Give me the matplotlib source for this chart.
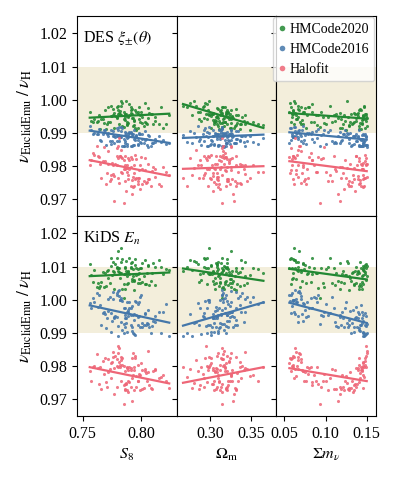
import numpy as np
import matplotlib
matplotlib.use("Agg")
import matplotlib.pyplot as plt

plt.rcParams['font.family'] = ['Liberation Serif', 'DejaVu Serif']
plt.rcParams['mathtext.fontset'] = 'stix'
plt.rcParams['font.size'] = 11.5

# === DATA: sampled cosmologies ===
S8 = [0.782, 0.791, 0.768, 0.801, 0.776, 0.794, 0.759, 0.787, 0.812, 0.779,
      0.785, 0.797, 0.771, 0.803, 0.789, 0.764, 0.795, 0.781, 0.808, 0.774,
      0.792, 0.786, 0.799, 0.757, 0.783, 0.806, 0.777, 0.790, 0.769, 0.815,
      0.788, 0.796, 0.780, 0.762, 0.802, 0.784, 0.793, 0.773, 0.810, 0.786,
      0.798, 0.778, 0.766, 0.791, 0.804, 0.782, 0.789, 0.821, 0.775, 0.794,
      0.787, 0.800, 0.770, 0.783, 0.797, 0.760, 0.792, 0.779, 0.806, 0.788,
      0.795, 0.772, 0.785, 0.817, 0.780, 0.799, 0.765, 0.790, 0.803, 0.777,
      0.786, 0.793, 0.756, 0.807, 0.781, 0.796, 0.774, 0.789, 0.812, 0.784,
      0.798, 0.767, 0.791, 0.779, 0.805, 0.786, 0.824, 0.772, 0.794, 0.783,
      0.801, 0.788, 0.763, 0.797, 0.780, 0.809, 0.776, 0.792, 0.785, 0.819]

Om = [0.312, 0.298, 0.325, 0.307, 0.331, 0.289, 0.318, 0.303, 0.341, 0.315,
      0.296, 0.322, 0.309, 0.276, 0.327, 0.314, 0.301, 0.336, 0.319, 0.292,
      0.324, 0.306, 0.352, 0.311, 0.283, 0.317, 0.329, 0.299, 0.313, 0.338,
      0.305, 0.321, 0.267, 0.316, 0.330, 0.294, 0.310, 0.345, 0.320, 0.302,
      0.326, 0.308, 0.287, 0.318, 0.333, 0.297, 0.314, 0.359, 0.323, 0.304,
      0.280, 0.319, 0.311, 0.334, 0.300, 0.316, 0.328, 0.293, 0.309, 0.343,
      0.321, 0.306, 0.315, 0.272, 0.325, 0.312, 0.337, 0.296, 0.318, 0.304,
      0.331, 0.310, 0.285, 0.322, 0.314, 0.349, 0.301, 0.327, 0.308, 0.317,
      0.291, 0.323, 0.313, 0.339, 0.305, 0.320, 0.278, 0.316, 0.332, 0.299,
      0.312, 0.365, 0.307, 0.324, 0.295, 0.319, 0.342, 0.310, 0.288, 0.326]

mnu = [0.061, 0.143, 0.098, 0.127, 0.067, 0.149, 0.082, 0.136, 0.112, 0.058,
       0.146, 0.074, 0.121, 0.063, 0.139, 0.091, 0.148, 0.070, 0.131, 0.105,
       0.059, 0.144, 0.086, 0.124, 0.066, 0.150, 0.117, 0.077, 0.141, 0.062,
       0.134, 0.095, 0.147, 0.069, 0.128, 0.057, 0.145, 0.108, 0.073, 0.138,
       0.064, 0.149, 0.119, 0.080, 0.142, 0.060, 0.133, 0.101, 0.146, 0.071,
       0.126, 0.056, 0.140, 0.088, 0.148, 0.065, 0.115, 0.137, 0.075, 0.144,
       0.060, 0.130, 0.093, 0.147, 0.068, 0.122, 0.143, 0.084, 0.058, 0.139,
       0.110, 0.150, 0.072, 0.135, 0.063, 0.125, 0.145, 0.097, 0.066, 0.141,
       0.079, 0.148, 0.118, 0.059, 0.132, 0.103, 0.146, 0.070, 0.129, 0.062,
       0.144, 0.089, 0.137, 0.076, 0.149, 0.113, 0.064, 0.142, 0.083, 0.120]

# === DES xi_pm ratios ===
des_hm20 = [0.9966, 0.9969, 0.9929, 0.9947, 0.9972, 0.9935, 0.9933, 0.9958, 0.9936, 0.9979,
            0.9941, 0.9962, 0.9926, 0.9991, 0.9950, 0.9954, 0.9916, 0.9928, 0.9958, 0.9982,
            0.9958, 0.9939, 0.9934, 0.9935, 0.9981, 0.9945, 0.9914, 0.9953, 0.9970, 0.9928,
            0.9932, 0.9963, 0.9981, 0.9932, 0.9920, 0.9990, 0.9946, 0.9933, 0.9928, 0.9958,
            0.9941, 0.9951, 0.9942, 0.9978, 0.9931, 0.9957, 0.9930, 0.9926, 0.9952, 0.9940,
            0.9996, 0.9963, 0.9912, 0.9955, 0.9957, 0.9943, 0.9944, 0.9945, 0.9976, 0.9928,
            0.9970, 0.9932, 0.9917, 0.9978, 0.9970, 0.9955, 0.9912, 0.9988, 0.9932, 0.9961,
            0.9953, 0.9920, 0.9964, 0.9960, 0.9959, 0.9908, 0.9952, 0.9949, 0.9948, 0.9922,
            0.9977, 0.9941, 0.9959, 0.9948, 0.9928, 0.9947, 0.9953, 0.9977, 0.9924, 0.9996,
            0.9930, 0.9923, 0.9935, 0.9915, 0.9956, 0.9956, 0.9955, 0.9972, 0.9963, 0.9915]

des_hm16 = [0.9889, 0.9862, 0.9908, 0.9896, 0.9906, 0.9864, 0.9896, 0.9891, 0.9873, 0.9915,
            0.9860, 0.9878, 0.9897, 0.9907, 0.9889, 0.9912, 0.9879, 0.9877, 0.9861, 0.9909,
            0.9898, 0.9894, 0.9874, 0.9908, 0.9887, 0.9858, 0.9870, 0.9901, 0.9909, 0.9892,
            0.9866, 0.9894, 0.9893, 0.9897, 0.9869, 0.9914, 0.9896, 0.9876, 0.9871, 0.9875,
            0.9899, 0.9888, 0.9875, 0.9900, 0.9881, 0.9889, 0.9890, 0.9866, 0.9875, 0.9910,
            0.9900, 0.9870, 0.9864, 0.9907, 0.9863, 0.9899, 0.9892, 0.9875, 0.9893, 0.9862,
            0.9887, 0.9900, 0.9860, 0.9874, 0.9908, 0.9898, 0.9880, 0.9904, 0.9878, 0.9890,
            0.9871, 0.9865, 0.9920, 0.9891, 0.9918, 0.9892, 0.9866, 0.9898, 0.9882, 0.9862,
            0.9896, 0.9898, 0.9902, 0.9890, 0.9863, 0.9902, 0.9870, 0.9892, 0.9883, 0.9918,
            0.9882, 0.9886, 0.9898, 0.9868, 0.9892, 0.9869, 0.9891, 0.9862, 0.9882, 0.9878]

des_halofit = [0.9830, 0.9739, 0.9858, 0.9747, 0.9803, 0.9805, 0.9840, 0.9724, 0.9793, 0.9854,
               0.9792, 0.9756, 0.9780, 0.9825, 0.9762, 0.9829, 0.9835, 0.9748, 0.9741, 0.9772,
               0.9823, 0.9792, 0.9803, 0.9819, 0.9848, 0.9807, 0.9695, 0.9790, 0.9816, 0.9746,
               0.9795, 0.9821, 0.9764, 0.9862, 0.9756, 0.9780, 0.9737, 0.9755, 0.9797, 0.9804,
               0.9788, 0.9806, 0.9764, 0.9828, 0.9750, 0.9831, 0.9774, 0.9783, 0.9809, 0.9779,
               0.9795, 0.9829, 0.9745, 0.9783, 0.9764, 0.9834, 0.9716, 0.9830, 0.9760, 0.9804,
               0.9761, 0.9807, 0.9688, 0.9740, 0.9860, 0.9730, 0.9807, 0.9818, 0.9787, 0.9770,
               0.9832, 0.9766, 0.9805, 0.9760, 0.9885, 0.9763, 0.9760, 0.9826, 0.9767, 0.9825,
               0.9763, 0.9815, 0.9797, 0.9804, 0.9752, 0.9754, 0.9773, 0.9845, 0.9741, 0.9829,
               0.9792, 0.9781, 0.9831, 0.9745, 0.9825, 0.9786, 0.9776, 0.9758, 0.9820, 0.9798]

# === KiDS E_n ratios ===
kids_hm20 = [1.0065, 1.0096, 1.0037, 1.0110, 1.0086, 1.0058, 1.0053, 1.0086, 1.0044, 1.0125,
             1.0046, 1.0091, 1.0087, 1.0120, 1.0087, 1.0034, 1.0105, 1.0084, 1.0056, 1.0127,
             1.0063, 1.0033, 1.0096, 1.0073, 1.0113, 1.0101, 1.0031, 1.0076, 1.0079, 1.0120,
             1.0047, 1.0094, 1.0085, 1.0038, 1.0072, 1.0124, 1.0092, 1.0049, 1.0112, 1.0077,
             1.0062, 1.0109, 1.0054, 1.0099, 1.0047, 1.0081, 1.0084, 1.0093, 1.0074, 1.0057,
             1.0118, 1.0097, 1.0040, 1.0081, 1.0077, 1.0089, 1.0055, 1.0099, 1.0106, 1.0070,
             1.0124, 1.0065, 1.0005, 1.0099, 1.0148, 1.0049, 1.0040, 1.0125, 1.0047, 1.0083,
             1.0095, 1.0071, 1.0107, 1.0043, 1.0094, 1.0074, 1.0102, 1.0050, 1.0100, 1.0031,
             1.0080, 1.0083, 1.0110, 1.0096, 1.0080, 1.0100, 1.0088, 1.0090, 1.0029, 1.0155,
             1.0053, 1.0079, 1.0051, 1.0049, 1.0094, 1.0081, 1.0113, 1.0113, 1.0078, 1.0078]

kids_hm16 = [0.9999, 0.9924, 0.9962, 0.9918, 1.0022, 0.9896, 1.0006, 0.9945, 0.9934, 1.0015,
             0.9899, 0.9986, 0.9944, 0.9957, 0.9964, 1.0013, 0.9895, 1.0010, 0.9899, 0.9961,
             0.9981, 0.9946, 1.0008, 0.9974, 0.9934, 0.9927, 0.9947, 0.9993, 0.9956, 0.9963,
             0.9902, 0.9953, 0.9892, 1.0020, 0.9923, 0.9997, 0.9955, 1.0008, 0.9937, 0.9917,
             0.9994, 0.9951, 0.9925, 0.9974, 0.9925, 0.9999, 0.9969, 0.9987, 0.9935, 0.9958,
             0.9930, 1.0014, 0.9915, 1.0006, 0.9923, 0.9994, 0.9917, 0.9948, 0.9970, 0.9962,
             0.9996, 0.9966, 0.9928, 0.9899, 1.0025, 0.9917, 0.9984, 0.9976, 0.9960, 0.9946,
             0.9976, 0.9901, 0.9990, 0.9919, 1.0029, 0.9993, 0.9902, 0.9951, 0.9951, 0.9908,
             0.9951, 0.9960, 0.9955, 1.0021, 0.9930, 0.9953, 0.9890, 1.0003, 0.9939, 0.9998,
             0.9930, 0.9994, 0.9979, 0.9947, 0.9920, 0.9921, 1.0001, 0.9907, 0.9975, 0.9964]

kids_halofit = [0.9805, 0.9789, 0.9776, 0.9732, 0.9827, 0.9799, 0.9796, 0.9747, 0.9788, 0.9821,
                0.9801, 0.9754, 0.9738, 0.9792, 0.9787, 0.9747, 0.9825, 0.9814, 0.9733, 0.9763,
                0.9824, 0.9785, 0.9774, 0.9756, 0.9818, 0.9846, 0.9715, 0.9796, 0.9824, 0.9764,
                0.9728, 0.9737, 0.9799, 0.9838, 0.9733, 0.9826, 0.9773, 0.9790, 0.9785, 0.9746,
                0.9769, 0.9830, 0.9730, 0.9794, 0.9778, 0.9798, 0.9723, 0.9756, 0.9812, 0.9789,
                0.9750, 0.9809, 0.9751, 0.9755, 0.9804, 0.9801, 0.9695, 0.9737, 0.9782, 0.9794,
                0.9831, 0.9782, 0.9685, 0.9766, 0.9841, 0.9729, 0.9797, 0.9752, 0.9785, 0.9793,
                0.9732, 0.9841, 0.9785, 0.9743, 0.9856, 0.9769, 0.9811, 0.9754, 0.9790, 0.9805,
                0.9775, 0.9817, 0.9737, 0.9802, 0.9756, 0.9729, 0.9735, 0.9821, 0.9729, 0.9827,
                0.9788, 0.9797, 0.9795, 0.9755, 0.9862, 0.9730, 0.9843, 0.9764, 0.9742, 0.9773]

# === linear trend lines (value at lowest / highest parameter) ===
# rows: DES, KiDS ; columns: S8, Om, mnu ; pairs: (start, end)
fit_hm20 = [[(0.9946, 0.9958), (0.9987, 0.9915), (0.9960, 0.9943)],
            [(1.0071, 1.0082), (1.0094, 1.0057), (1.0093, 1.0061)]]
fit_hm16 = [[(0.9907, 0.9870), (0.9885, 0.9895), (0.9902, 0.9880)],
            [(0.9983, 0.9931), (0.9922, 0.9992), (0.9991, 0.9930)]]
fit_halofit = [[(0.9818, 0.9771), (0.9792, 0.9800), (0.9815, 0.9785)],
               [(0.9797, 0.9748), (0.9750, 0.9797), (0.9794, 0.9755)]]

params = [S8, Om, mnu]
param_labels = [r'$S_8$', r'$\Omega_{\rm m}$', r'$\Sigma m_\nu$']
xlims = [(0.7453, 0.8304), (0.2593, 0.3806), (0.0400, 0.1609)]
xticks = [[0.75, 0.80], [0.30, 0.35], [0.05, 0.10, 0.15]]
row_titles = [r'DES $\xi_{\pm}(\theta)$', r'KiDS $E_n$']
ratios = [[des_hm20, des_hm16, des_halofit], [kids_hm20, kids_hm16, kids_halofit]]
fits = [fit_hm20, fit_hm16, fit_halofit]
names = ['HMCode2020', 'HMCode2016', 'Halofit']
colors = ['#228833', '#4477AA', '#EE6677']

# === PLOT ===
fig, axes = plt.subplots(2, 3, figsize=(3.98, 4.78), dpi=100, sharey=True)
fig.subplots_adjust(left=0.194, right=0.944, top=0.9665, bottom=0.1297,
                    wspace=0, hspace=0)

for r in range(2):
    for c in range(3):
        ax = axes[r, c]
        x = np.array(params[c])
        ax.axhspan(0.99, 1.01, color='#f3eedb', zorder=0, lw=0)
        for k in range(3):
            ax.scatter(x, ratios[r][k], s=5, color=colors[k], alpha=0.85,
                       lw=0, zorder=2, label=names[k])
        for k in range(3):
            y0, y1 = fits[k][r][c]
            ax.plot([x.min(), x.max()], [y0, y1], color=colors[k], lw=1.6, zorder=3)
        ax.set_xlim(*xlims[c])
        ax.set_xticks(xticks[c])
        ax.set_ylim(0.965, 1.0252)
        ax.set_yticks([0.97, 0.98, 0.99, 1.00, 1.01, 1.02])
        ax.tick_params(length=3.5, width=0.8)
        if r == 0:
            ax.tick_params(axis='x', bottom=False, labelbottom=False)
        else:
            ax.set_xlabel(param_labels[c])
        if c == 0:
            ax.set_ylabel(r'$\nu_{\rm EuclidEmu}\;/\;\nu_{\rm H}$', fontsize=12.5)
            ax.text(0.06, 0.89, row_titles[r], transform=ax.transAxes,
                    va='center', ha='left')

axes[0, 2].legend(loc='upper right', handlelength=0.5, handletextpad=0.3,
                  borderaxespad=0.1, borderpad=0.4, labelspacing=0.5,
                  markerscale=1.8, fontsize=10, scatteryoffsets=[0.5])

plt.savefig('out.png', dpi=100)
